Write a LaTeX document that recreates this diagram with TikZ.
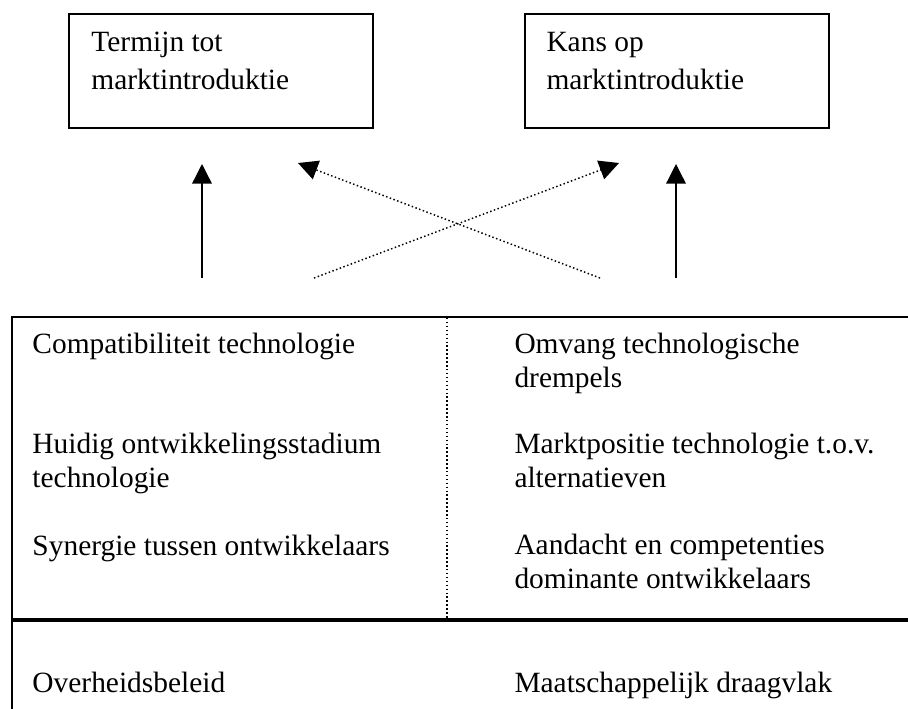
\documentclass[tikz,border=0pt]{standalone}
\usepackage{fontspec}
\setmainfont{Liberation Serif}
\usetikzlibrary{arrows.meta}
\tikzset{
  txt/.style={anchor=base west,inner sep=0pt,align=left,font=\fontsize{12}{13.7}\selectfont},
  hdr/.style={txt,font=\fontsize{12}{15.1}\selectfont},
  goalbox/.style={draw,line width=0.7pt,anchor=north west,inner sep=0pt,minimum width=124pt,minimum height=46.5pt},
  fine dots/.style={dash pattern=on 0.6pt off 1pt},
  solidarrow/.style={line width=0.55pt,-{Triangle[length=8pt,width=8pt]}},
  dotarrow/.style={line width=0.6pt,fine dots,-{Triangle[length=8pt,width=8pt]}}
}
\begin{document}
\begin{tikzpicture}[x=0.408pt,y=-0.408pt]
\useasboundingbox (0,0) rectangle (908,708);
\clip (0,0) rectangle (908,708);
% goals
\node(termijn) at (68,13)[goalbox] {};
\node(kans) at (524,13)[goalbox] {};
\node(termijntxt) at (91,89)[hdr] {Termijn tot\\marktintroduktie};
\node(kanstxt) at (546,89)[hdr] {Kans op\\marktintroduktie};
% arrow ends
\coordinate(a1) at (202,278);
\coordinate(b1) at (202,164);
\coordinate(a2) at (676,278);
\coordinate(b2) at (676,164);
\coordinate(a3) at (600,278);
\coordinate(b3) at (298,163);
\coordinate(a4) at (314,278);
\coordinate(b4) at (619,163);
\path [solidarrow]
  (a1)      edge                 (b1)
  (a2)      edge                 (b2);
\path [dotarrow]
  (a3)      edge                 (b3)
  (a4)      edge                 (b4);
% factors
\draw[line width=0.7pt] (12,720) -- (12,317) -- (920,317);
\draw[line width=1.4pt] (12,620) -- (920,620);
\draw[line width=0.5pt,fine dots] (447,318) -- (447,618);
\node(compat) at (32,353)[txt] {Compatibiliteit technologie};
\node(stadium) at (32,487)[txt] {Huidig ontwikkelingsstadium\\technologie};
\node(synergie) at (32,555)[txt] {Synergie tussen ontwikkelaars};
\node(overheid) at (32,692)[txt] {Overheidsbeleid};
\node(drempels) at (514,387)[txt] {Omvang technologische\\drempels};
\node(positie) at (514,487)[txt] {Marktpositie technologie t.o.v.\\alternatieven};
\node(aandacht) at (514,588)[txt] {Aandacht en competenties\\dominante ontwikkelaars};
\node(draagvlak) at (514,692)[txt] {Maatschappelijk draagvlak};
\end{tikzpicture}
\end{document}
